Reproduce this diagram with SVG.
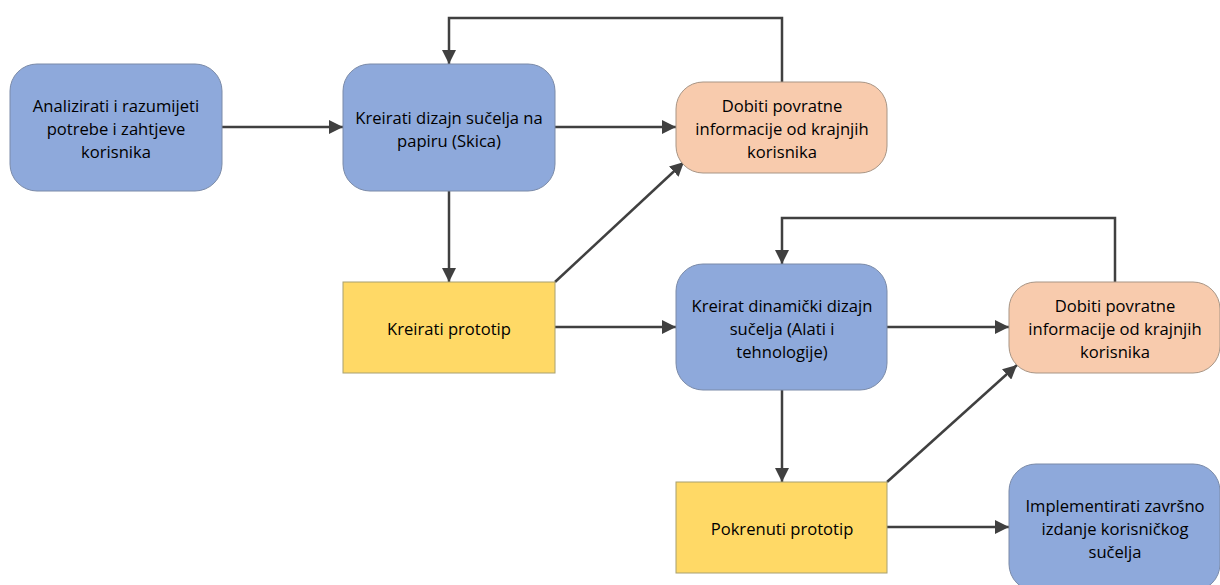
<svg xmlns="http://www.w3.org/2000/svg" width="1220" height="585" viewBox="0 0 1220 585">
<style>
.blue{fill:#8EA9DB;stroke:#7A8AA8;stroke-width:1}
.peach{fill:#F8CBAD;stroke:#A89585;stroke-width:1}
.yellow{fill:#FFD966;stroke:#A8A070;stroke-width:1}
text{font-family:"Open Sans","Liberation Sans",sans-serif;font-size:16.6px;fill:#000;text-anchor:middle;dominant-baseline:central}
.c{fill:none;stroke:#404040;stroke-width:2.5}
</style>
<defs>
<marker id="ah" viewBox="0 0 10 10" refX="10" refY="5" markerWidth="5.6" markerHeight="5.6" markerUnits="strokeWidth" orient="auto">
<path d="M0,0 L10,5 L0,10 z" fill="#404040"/>
</marker>
</defs>
<rect width="1220" height="585" fill="#fff"/>
<g id="connectors">
<line class="c" x1="222" y1="127" x2="343" y2="127" marker-end="url(#ah)"/>
<line class="c" x1="555" y1="127" x2="676" y2="127" marker-end="url(#ah)"/>
<polyline class="c" points="782,82 782,18 449,18 449,64" marker-end="url(#ah)"/>
<line class="c" x1="449" y1="191" x2="449" y2="282" marker-end="url(#ah)"/>
<line class="c" x1="555" y1="282" x2="684" y2="162" marker-end="url(#ah)"/>
<line class="c" x1="555" y1="327" x2="676" y2="327" marker-end="url(#ah)"/>
<line class="c" x1="887" y1="327" x2="1009" y2="327" marker-end="url(#ah)"/>
<polyline class="c" points="1115,282 1115,218 782,218 782,264" marker-end="url(#ah)"/>
<line class="c" x1="782" y1="390" x2="782" y2="482" marker-end="url(#ah)"/>
<line class="c" x1="887" y1="482" x2="1017" y2="365" marker-end="url(#ah)"/>
<line class="c" x1="887" y1="527" x2="1009" y2="527" marker-end="url(#ah)"/>
</g>
<g id="n1">
<rect class="blue" x="10" y="64" width="212" height="127" rx="27"/>
<text x="116" y="105">Analizirati i razumijeti</text>
<text x="116" y="128">potrebe i zahtjeve</text>
<text x="116" y="151">korisnika</text>
</g>
<g id="n2">
<rect class="blue" x="343" y="64" width="212" height="127" rx="27"/>
<text x="449" y="117">Kreirati dizajn sučelja na</text>
<text x="449" y="140">papiru (Skica)</text>
</g>
<g id="n3">
<rect class="peach" x="676" y="82" width="211" height="91" rx="27"/>
<text x="782" y="105">Dobiti povratne</text>
<text x="782" y="128">informacije od krajnjih</text>
<text x="782" y="151">korisnika</text>
</g>
<g id="n4">
<rect class="yellow" x="343" y="282" width="212" height="91"/>
<text x="449" y="328">Kreirati prototip</text>
</g>
<g id="n5">
<rect class="blue" x="676" y="264" width="211" height="126" rx="27"/>
<text x="782" y="305">Kreirat dinamički dizajn</text>
<text x="782" y="328">sučelja (Alati i</text>
<text x="782" y="351">tehnologije)</text>
</g>
<g id="n6">
<rect class="peach" x="1009" y="282" width="211" height="91" rx="27"/>
<text x="1115" y="305">Dobiti povratne</text>
<text x="1115" y="328">informacije od krajnjih</text>
<text x="1115" y="351">korisnika</text>
</g>
<g id="n7">
<rect class="yellow" x="676" y="482" width="211" height="91"/>
<text x="782" y="528">Pokrenuti prototip</text>
</g>
<g id="n8">
<rect class="blue" x="1009" y="464" width="211" height="127" rx="27"/>
<text x="1115" y="505">Implementirati završno</text>
<text x="1115" y="528">izdanje korisničkog</text>
<text x="1115" y="551">sučelja</text>
</g>
</svg>
